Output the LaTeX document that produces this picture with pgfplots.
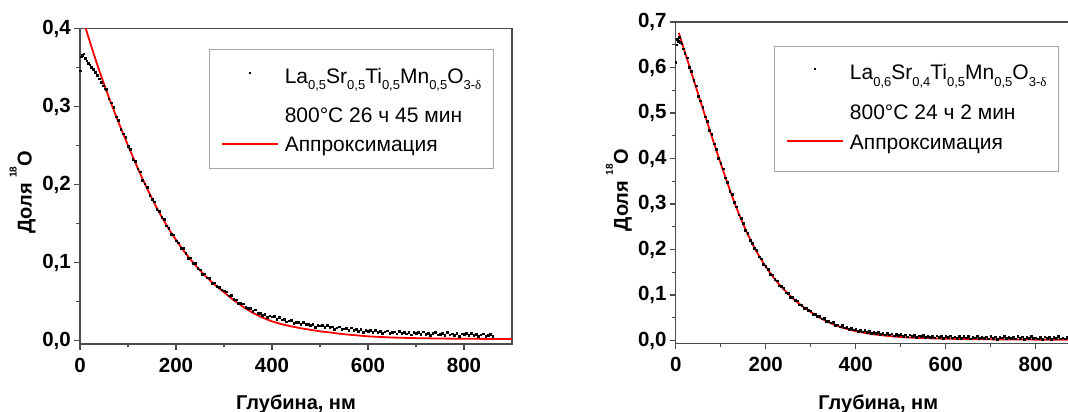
\documentclass[border=0pt]{standalone}
\usepackage{pgfplots}
\pgfplotsset{compat=1.18}
\usepackage{fontspec}
\setmainfont{Liberation Sans}
\newfontfamily\greekserif{Liberation Serif}

% chemical-formula subscripts and the delta in the oxygen index
\newcommand{\sub}[1]{\raisebox{-6.5pt}{\fontsize{13}{13}\selectfont #1}}
\newcommand{\dlt}{{\greekserif δ}}
\newcommand{\axlabelfont}{\fontsize{20}{22}\selectfont\bfseries}

\pgfplotsset{
  profile/.style={
    scale only axis,
    xmin=0, xmax=900,
    axis line style={black!70, line width=1.2pt},
    tick style={black!70, line width=1.1pt},
    major tick length=6pt, minor tick length=3.5pt,
    tick align=outside, tick pos=left,
    xtick={0,200,400,600,800}, minor xtick={100,300,500,700},
    /pgf/number format/assume math mode=true,
    tick label style={font=\fontsize{20.5}{22}\selectfont\bfseries},
    xticklabel style={inner ysep=7.5pt},
    yticklabel style={inner xsep=3pt,
      /pgf/number format/fixed, /pgf/number format/fixed zerofill,
      /pgf/number format/precision=1, /pgf/number format/use comma},
    xlabel={Глубина, нм},
    ylabel={Доля \raisebox{15pt}{\fontsize{10}{10}\selectfont 18}O},
    legend cell align=left,
    legend style={draw=black!35, line width=0.8pt, inner xsep=12pt, inner ysep=0pt,
      row sep=0pt, column sep=6pt, font=\fontsize{21}{24}\selectfont,
      nodes={inner sep=0pt}},
  },
  % legend symbols, lowered to sit at the middle of the text line
  sims/.style={only marks, mark=square*, mark size=0.85pt, black,
    legend image code/.code={
      \fill[black, draw=none] (27pt,-6.4pt) rectangle (28.7pt,-4.7pt);}},
  fit/.style={red, line width=1.8pt,
    legend image code/.code={
      \draw[red, line width=1.8pt] (0pt,-5.5pt) -- (55.6pt,-5.5pt);}},
  blank/.style={legend image code/.code={}},
}

\begin{document}
\begin{tikzpicture}

% ---------- La0.5Sr0.5Ti0.5Mn0.5O3-d ----------
\begin{axis}[profile, at={(80pt,68pt)}, anchor=south west, width=432pt, height=315.3pt,
  ymin=-0.0042, ymax=0.4,
  ytick={0,0.1,0.2,0.3,0.4}, minor ytick={0.05,0.15,0.25,0.35},
  every axis x label/.style={at={(axis description cs:0.5,-0.2077)}, anchor=base, font=\axlabelfont},
  every axis y label/.style={at={(axis description cs:-0.1118,0.4805)}, rotate=90, anchor=base, font=\axlabelfont},
  legend style={at={(axis description cs:0.2986,0.9347)}, anchor=north west},
]
\addplot[sims] coordinates {
(0,0.346)(2,0.364)(5,0.366)(8,0.368)(11,0.362)(14,0.359)(17,0.356)(20,0.354)
(24,0.351)(28,0.348)(32,0.344)(36,0.340)(40,0.336)(44,0.331)(48,0.327)(52,0.323)
(55,0.3226)(60,0.3102)(65,0.3051)(70,0.2990)(75,0.2872)(80,0.2824)(85,0.2708)(90,0.2652)
(95,0.2608)(100,0.2494)(105,0.2451)(110,0.2329)(115,0.2298)(120,0.2207)(125,0.2168)(130,0.2060)
(135,0.2014)(140,0.1969)(145,0.1866)(150,0.1813)(155,0.1783)(160,0.1683)(165,0.1656)(170,0.1580)
(175,0.1557)(180,0.1474)(185,0.1444)(190,0.1365)(195,0.1358)(200,0.1282)(205,0.1258)(210,0.1184)
(215,0.1182)(220,0.1121)(225,0.1062)(230,0.1063)(235,0.0996)(240,0.0990)(245,0.0926)(250,0.0912)
(255,0.0850)(260,0.0858)(265,0.0808)(270,0.0798)(275,0.0740)(280,0.0742)(285,0.0696)(290,0.0690)
(295,0.0655)(300,0.0641)(305,0.0628)(310,0.0578)(315,0.0583)(320,0.0535)(325,0.0525)(330,0.0478)
(335,0.0479)(340,0.0474)(345,0.0426)(350,0.0420)(355,0.0415)(360,0.0375)(365,0.0398)(370,0.0357)
(375,0.0357)(380,0.0330)(385,0.0344)(390,0.0301)(395,0.0322)(400,0.0307)(405,0.0312)(410,0.0279)
(415,0.0301)(420,0.0269)(425,0.0275)(430,0.0242)(435,0.0256)(440,0.0265)(445,0.0229)(450,0.0235)
(455,0.0239)(460,0.0209)(465,0.0241)(470,0.0208)(475,0.0215)(480,0.0195)(485,0.0215)(490,0.0177)
(495,0.0202)(500,0.0191)(505,0.0200)(510,0.0171)(515,0.0198)(520,0.0169)(525,0.0178)(530,0.0149)
(535,0.0166)(540,0.0178)(545,0.0144)(550,0.0153)(555,0.0160)(560,0.0132)(565,0.0166)(570,0.0135)
(575,0.0144)(580,0.0125)(585,0.0146)(590,0.0109)(595,0.0136)(600,0.0126)(605,0.0137)(610,0.0110)
(615,0.0139)(620,0.0112)(625,0.0123)(630,0.0095)(635,0.0115)(640,0.0128)(645,0.0097)(650,0.0107)
(655,0.0116)(660,0.0090)(665,0.0125)(670,0.0096)(675,0.0107)(680,0.0090)(685,0.0113)(690,0.0078)
(695,0.0106)(700,0.0098)(705,0.0110)(710,0.0084)(715,0.0114)(720,0.0088)(725,0.0100)(730,0.0073)
(735,0.0093)(740,0.0108)(745,0.0077)(750,0.0088)(755,0.0097)(760,0.0072)(765,0.0108)(770,0.0079)
(775,0.0091)(780,0.0074)(785,0.0097)(790,0.0062)(795,0.0091)(800,0.0083)(805,0.0095)(810,0.0069)
(815,0.0098)(820,0.0072)(825,0.0084)(830,0.0057)(835,0.0077)(840,0.0091)(845,0.0060)(850,0.0071)
(855,0.0080)(860,0.0054)
};
\addlegendentry{\rule{0pt}{33.5pt}La\sub{0,5}Sr\sub{0,5}Ti\sub{0,5}Mn\sub{0,5}O\sub{3-\dlt}}
\addlegendimage{blank}
\addlegendentry{\rule{0pt}{38pt}800°C 26 ч 45 мин}
\addplot[fit] coordinates {
(0,0.425)(10,0.4043)(20,0.3843)(30,0.3651)(40,0.3467)(50,0.3291)(60,0.3122)(70,0.2960)
(80,0.2804)(90,0.2652)(100,0.2504)(110,0.2359)(120,0.2217)(130,0.2080)(140,0.1949)(150,0.1823)
(160,0.1703)(170,0.1590)(180,0.1484)(190,0.1385)(200,0.1292)(210,0.1204)(220,0.1121)(230,0.1043)
(240,0.0970)(250,0.0902)(260,0.0838)(270,0.0778)(280,0.0722)(290,0.0670)(300,0.0621)(320,0.0521)
(340,0.0433)(360,0.0357)(380,0.0296)(400,0.0248)(420,0.0212)(440,0.0184)(460,0.0160)(480,0.0140)
(500,0.0121)(550,0.0083)(600,0.0056)(650,0.0041)(700,0.0033)(750,0.0028)(800,0.0025)(900,0.0022)
};
\addlegendentry{\rule{0pt}{27.5pt}Аппроксимация}
\addlegendimage{blank}
\addlegendentry{\rule{0pt}{14pt}}
\end{axis}

% ---------- La0.6Sr0.4Ti0.5Mn0.5O3-d ----------
\begin{axis}[profile, at={(675.7pt,68.7pt)}, anchor=south west, width=405pt, height=321.3pt,
  ymin=-0.0062, ymax=0.7,
  ytick={0,0.1,0.2,0.3,0.4,0.5,0.6,0.7},
  minor ytick={0.05,0.15,0.25,0.35,0.45,0.55,0.65},
  every axis x label/.style={at={(axis description cs:0.5,-0.206)}, anchor=base, font=\axlabelfont},
  every axis y label/.style={at={(axis description cs:-0.1178,0.477)}, rotate=90, anchor=base, font=\axlabelfont},
  legend style={at={(axis description cs:0.243,0.9262)}, anchor=north west},
]
\addplot[sims] coordinates {
(0,0.612)(2,0.650)(4,0.662)(6,0.658)(8,0.666)(10,0.655)(13,0.652)(16,0.641)
(20,0.6311)(25,0.6214)(30,0.6007)(35,0.5920)(40,0.5714)(45,0.5598)(50,0.5372)(55,0.5267)
(60,0.5132)(65,0.4918)(70,0.4814)(75,0.4621)(80,0.4529)(85,0.4328)(90,0.4208)(95,0.4000)
(100,0.3902)(105,0.3776)(110,0.3580)(115,0.3478)(120,0.3287)(125,0.3212)(130,0.3037)(135,0.2939)
(140,0.2762)(145,0.2683)(150,0.2584)(155,0.2424)(160,0.2354)(165,0.2203)(170,0.2142)(175,0.2029)
(180,0.1977)(185,0.1842)(190,0.1798)(195,0.1670)(200,0.1633)(205,0.1572)(210,0.1461)(215,0.1446)
(220,0.1341)(225,0.1311)(230,0.1202)(235,0.1188)(240,0.1144)(245,0.1053)(250,0.1042)(255,0.0956)
(260,0.0950)(265,0.0878)(270,0.0876)(275,0.0788)(280,0.0780)(285,0.0715)(290,0.0720)(295,0.0658)
(300,0.0656)(305,0.0585)(310,0.0584)(315,0.0530)(320,0.0537)(325,0.0481)(330,0.0490)(335,0.0421)
(340,0.0428)(345,0.0392)(350,0.0396)(355,0.0342)(360,0.0349)(365,0.0303)(370,0.0332)(375,0.0283)
(380,0.0294)(385,0.0247)(390,0.0265)(395,0.0239)(400,0.0254)(405,0.0211)(410,0.0229)(415,0.0191)
(420,0.0229)(425,0.0188)(430,0.0206)(435,0.0163)(440,0.0186)(445,0.0165)(450,0.0184)(455,0.0143)
(460,0.0162)(465,0.0127)(470,0.0167)(475,0.0127)(480,0.0147)(485,0.0108)(490,0.0134)(495,0.0115)
(500,0.0136)(505,0.0093)(510,0.0125)(515,0.0082)(520,0.0129)(525,0.0092)(530,0.0120)(535,0.0068)
(540,0.0106)(545,0.0089)(550,0.0122)(555,0.0075)(560,0.0094)(565,0.0067)(570,0.0101)(575,0.0059)
(580,0.0108)(585,0.0072)(590,0.0100)(595,0.0049)(600,0.0088)(605,0.0072)(610,0.0106)(615,0.0060)
(620,0.0080)(625,0.0054)(630,0.0088)(635,0.0047)(640,0.0097)(645,0.0061)(650,0.0090)(655,0.0039)
(660,0.0079)(665,0.0063)(670,0.0098)(675,0.0052)(680,0.0072)(685,0.0046)(690,0.0081)(695,0.0040)
(700,0.0090)(705,0.0055)(710,0.0084)(715,0.0034)(720,0.0074)(725,0.0059)(730,0.0093)(735,0.0048)
(740,0.0068)(745,0.0043)(750,0.0077)(755,0.0037)(760,0.0087)(765,0.0051)(770,0.0081)(775,0.0031)
(780,0.0070)(785,0.0055)(790,0.0090)(795,0.0044)(800,0.0064)(805,0.0039)(810,0.0074)(815,0.0033)
(820,0.0083)(825,0.0048)(830,0.0078)(835,0.0028)(840,0.0067)(845,0.0052)(850,0.0087)(855,0.0042)
(860,0.0062)(865,0.0037)(870,0.0071)(875,0.0031)(880,0.0081)
};
\addlegendentry{\rule{0pt}{33.5pt}La\sub{0,6}Sr\sub{0,4}Ti\sub{0,5}Mn\sub{0,5}O\sub{3-\dlt}}
\addlegendimage{blank}
\addlegendentry{\rule{0pt}{38.5pt}800°C 24 ч 2 мин}
\addplot[fit] coordinates {
(7,0.676)(10,0.6666)(20,0.6351)(30,0.6037)(40,0.5724)(50,0.5412)(60,0.5102)(70,0.4794)
(80,0.4489)(90,0.4188)(100,0.3892)(110,0.3600)(120,0.3317)(130,0.3047)(140,0.2792)(150,0.2554)
(160,0.2334)(170,0.2132)(180,0.1947)(190,0.1778)(200,0.1623)(210,0.1481)(220,0.1351)(230,0.1232)
(240,0.1124)(250,0.1022)(260,0.0928)(270,0.0842)(280,0.0764)(290,0.0692)(300,0.0626)(310,0.0562)
(320,0.0503)(330,0.0449)(340,0.0400)(350,0.0356)(360,0.0317)(370,0.0283)(380,0.0253)(390,0.0227)
(400,0.0204)(420,0.0166)(440,0.0136)(460,0.0112)(480,0.0092)(500,0.0076)(520,0.0064)(550,0.0052)
(600,0.0038)(650,0.0030)(700,0.0025)(800,0.0019)(900,0.0016)
};
\addlegendentry{\rule{0pt}{28pt}Аппроксимация}
\addlegendimage{blank}
\addlegendentry{\rule{0pt}{19.5pt}}
\end{axis}

\pgfresetboundingbox
\path[use as bounding box] (0,0) rectangle (1068pt,412pt);
\end{tikzpicture}
\end{document}
